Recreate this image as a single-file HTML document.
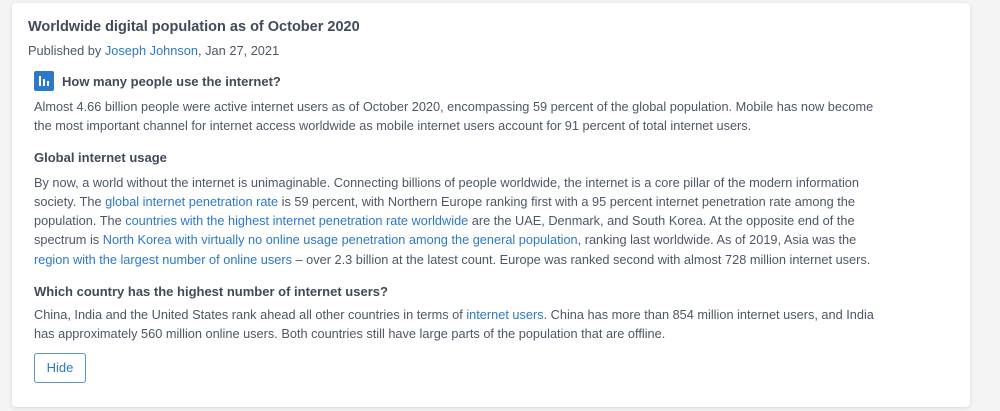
<!DOCTYPE html>
<html><head><meta charset="utf-8">
<style>
html,body{margin:0;padding:0;width:1000px;height:411px;background:#f4f4f5;overflow:hidden;font-family:"Liberation Sans",sans-serif;}
.card{position:absolute;left:12px;top:3px;width:958px;height:404px;background:#fff;border-radius:4px;box-shadow:0 1px 4px rgba(0,0,0,0.12);}
.l{position:absolute;left:34px;white-space:nowrap;font-size:12.75px;color:#4d5766;line-height:16px;}
.h{position:absolute;white-space:nowrap;font-weight:bold;color:#3f4a5a;}
a{color:#2d78c8;text-decoration:none;}
</style></head><body>
<div class="card"></div>
<div class="h" style="left:28px;top:19px;font-size:14.5px;">Worldwide digital population as of October 2020</div>
<div class="l" style="left:28px;top:43px;font-size:12.8px;">Published by <a href="#">Joseph Johnson</a>, Jan 27, 2021</div>
<div style="position:absolute;left:34px;top:71px;width:20px;height:20px;background:#2d78c8;border-radius:2px;">
<div style="position:absolute;left:5px;top:5px;width:2px;height:10px;background:#fff"></div>
<div style="position:absolute;left:9px;top:8px;width:2px;height:7px;background:#fff"></div>
<div style="position:absolute;left:13px;top:10px;width:2px;height:5px;background:#fff"></div>
</div>
<div class="h" style="left:62px;top:74px;font-size:13px;">How many people use the internet?</div>
<div class="l" style="top:99px;">Almost 4.66 billion people were active internet users as of October 2020, encompassing 59 percent of the global population. Mobile has now become</div>
<div class="l" style="top:118px;">the most important channel for internet access worldwide as mobile internet users account for 91 percent of total internet users.</div>
<div class="h" style="left:34px;top:150px;font-size:13px;">Global internet usage</div>
<div class="l" style="top:175px;">By now, a world without the internet is unimaginable. Connecting billions of people worldwide, the internet is a core pillar of the modern information</div>
<div class="l" style="top:194px;">society. The <a href="#">global internet penetration rate</a> is 59 percent, with Northern Europe ranking first with a 95 percent internet penetration rate among the</div>
<div class="l" style="top:213px;">population. The <a href="#">countries with the highest internet penetration rate worldwide</a> are the UAE, Denmark, and South Korea. At the opposite end of the</div>
<div class="l" style="top:232px;">spectrum is <a href="#">North Korea with virtually no online usage penetration among the general population</a>, ranking last worldwide. As of 2019, Asia was the</div>
<div class="l" style="top:252px;"><a href="#">region with the largest number of online users</a> – over 2.3 billion at the latest count. Europe was ranked second with almost 728 million internet users.</div>
<div class="h" style="left:34px;top:284px;font-size:13px;">Which country has the highest number of internet users?</div>
<div class="l" style="top:307px;">China, India and the United States rank ahead all other countries in terms of <a href="#">internet users</a>. China has more than 854 million internet users, and India</div>
<div class="l" style="top:326px;">has approximately 560 million online users. Both countries still have large parts of the population that are offline.</div>
<div style="position:absolute;left:34px;top:353px;width:50px;height:28px;border:1px solid #5b93d3;border-radius:3px;color:#2d78c8;font-size:13px;line-height:28px;text-align:center;">Hide</div>
</body></html>
